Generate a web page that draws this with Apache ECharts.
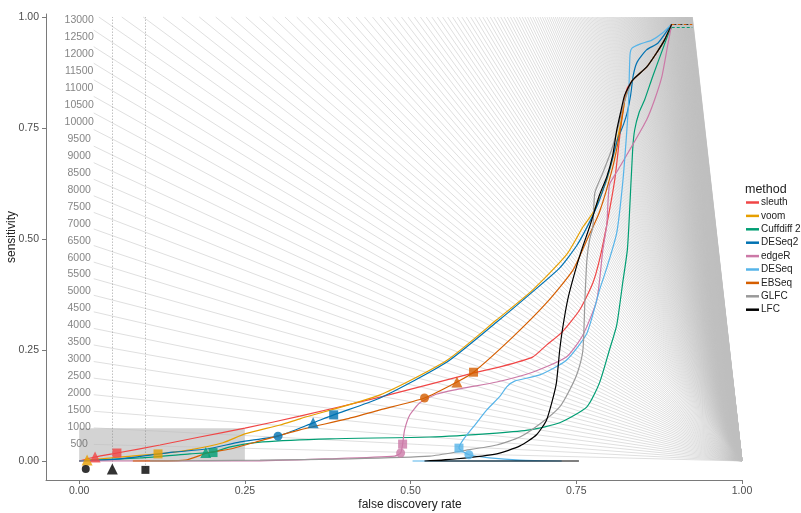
<!DOCTYPE html>
<html><head><meta charset="utf-8">
<script src="https://cdn.jsdelivr.net/npm/echarts@6/dist/echarts.min.js"></script>
<style>html,body{margin:0;padding:0;background:#fff}#c{width:801px;height:513px}</style>
</head><body><div id="c"></div>
<script>
const FONT = "'Liberation Sans', Arial, sans-serif";
const methods = ['sleuth','voom','Cuffdiff 2','DESeq2','edgeR','DESeq','EBSeq','GLFC','LFC'];
const colors  = ['#f04646','#E69F00','#009E73','#0072B2','#CC79A7','#56B4E9','#D55E00','#999999','#000000'];

// curves [FDR, sensitivity]
const sleuthCurve = [[0,0],[0.024,0.009],[0.057,0.018],[0.122,0.036],[0.182,0.054],[0.250,0.074],[0.333,0.101],[0.454,0.144],[0.594,0.198],[0.635,0.212],[0.684,0.234],[0.705,0.261],[0.729,0.291],[0.755,0.340],[0.775,0.401],[0.785,0.453],[0.796,0.532],[0.808,0.633],[0.815,0.723],[0.821,0.802],[0.827,0.840],[0.835,0.858],[0.856,0.887],[0.871,0.919],[0.883,0.948],[0.894,0.984]];
const voomCurve = [[0,0],[0.012,0.002],[0.062,0.009],[0.119,0.016],[0.167,0.025],[0.217,0.041],[0.250,0.061],[0.303,0.081],[0.333,0.095],[0.454,0.149],[0.555,0.227],[0.630,0.318],[0.684,0.385],[0.735,0.464],[0.760,0.527],[0.775,0.559],[0.796,0.633],[0.808,0.700],[0.819,0.775],[0.824,0.818],[0.835,0.858],[0.856,0.887],[0.871,0.919],[0.883,0.948],[0.894,0.984]];
const cuffdiffCurve = [[0,0],[0.092,0.007],[0.167,0.016],[0.202,0.020],[0.228,0.032],[0.277,0.043],[0.378,0.050],[0.529,0.054],[0.630,0.063],[0.680,0.070],[0.725,0.086],[0.766,0.122],[0.785,0.176],[0.800,0.250],[0.811,0.306],[0.820,0.401],[0.827,0.475],[0.830,0.550],[0.835,0.700],[0.838,0.745],[0.845,0.786],[0.853,0.813],[0.865,0.865],[0.880,0.926],[0.889,0.962],[0.894,0.977]];
const deseq2Curve = [[0,0],[0.062,0.005],[0.142,0.020],[0.193,0.027],[0.243,0.043],[0.300,0.056],[0.353,0.086],[0.384,0.104],[0.454,0.142],[0.555,0.223],[0.630,0.313],[0.684,0.381],[0.725,0.435],[0.751,0.486],[0.770,0.538],[0.785,0.588],[0.800,0.655],[0.812,0.723],[0.821,0.757],[0.827,0.786],[0.832,0.824],[0.836,0.869],[0.842,0.899],[0.856,0.926],[0.873,0.941],[0.888,0.971],[0.894,0.984]];
const edgeRCurve = [[0,0],[0.258,0],[0.378,0.005],[0.476,0.011],[0.485,0.018],[0.488,0.038],[0.491,0.070],[0.499,0.104],[0.514,0.131],[0.540,0.151],[0.579,0.164],[0.630,0.178],[0.684,0.200],[0.735,0.234],[0.760,0.284],[0.781,0.363],[0.790,0.475],[0.796,0.532],[0.800,0.622],[0.811,0.651],[0.835,0.712],[0.856,0.768],[0.868,0.813],[0.879,0.865],[0.888,0.937],[0.894,0.984]];
const deseqCurve = [[0.503,0],[0.728,0],[0.665,0.002],[0.619,0.007],[0.588,0.014],[0.573,0.029],[0.579,0.047],[0.597,0.081],[0.615,0.115],[0.635,0.146],[0.645,0.167],[0.657,0.180],[0.695,0.194],[0.735,0.227],[0.766,0.288],[0.785,0.385],[0.796,0.435],[0.811,0.514],[0.820,0.626],[0.826,0.739],[0.829,0.813],[0.831,0.914],[0.834,0.930],[0.846,0.939],[0.864,0.948],[0.880,0.964],[0.894,0.984]];
const ebseqCurve = [[0.081,0],[0.160,0.002],[0.193,0.018],[0.228,0.027],[0.277,0.047],[0.333,0.070],[0.404,0.095],[0.454,0.115],[0.521,0.142],[0.570,0.178],[0.595,0.200],[0.654,0.279],[0.705,0.356],[0.745,0.430],[0.766,0.498],[0.785,0.561],[0.805,0.662],[0.815,0.734],[0.821,0.791],[0.824,0.820],[0.835,0.858],[0.856,0.887],[0.871,0.919],[0.883,0.948],[0.894,0.984]];
const glfcCurve = [[0.107,0],[0.273,0.002],[0.408,0.005],[0.529,0.011],[0.579,0.023],[0.630,0.036],[0.665,0.054],[0.699,0.088],[0.725,0.122],[0.740,0.160],[0.752,0.200],[0.760,0.250],[0.763,0.363],[0.766,0.453],[0.770,0.498],[0.775,0.527],[0.778,0.604],[0.790,0.649],[0.803,0.700],[0.814,0.757],[0.821,0.802],[0.835,0.858],[0.856,0.887],[0.871,0.919],[0.883,0.948],[0.894,0.984]];
const lfcCurve = [[0.754,0],[0.521,0],[0.570,0.005],[0.630,0.016],[0.665,0.034],[0.690,0.059],[0.705,0.092],[0.714,0.137],[0.720,0.176],[0.725,0.250],[0.729,0.295],[0.737,0.363],[0.748,0.426],[0.758,0.475],[0.770,0.527],[0.785,0.599],[0.796,0.640],[0.805,0.689],[0.811,0.745],[0.817,0.786],[0.823,0.824],[0.835,0.858],[0.856,0.887],[0.871,0.919],[0.883,0.948],[0.894,0.984]];
const curves = [sleuthCurve, voomCurve, cuffdiffCurve, deseq2Curve, edgeRCurve, deseqCurve, ebseqCurve, glfcCurve, lfcCurve];

// threshold markers [FDR, sensitivity, shape]
const sleuthMarks   = [[0.024,0.009,'triangle'],[0.057,0.018,'rect']];
const voomMarks     = [[0.012,0.002,'triangle'],[0.119,0.016,'rect']];
const cuffdiffMarks = [[0.191,0.019,'triangle'],[0.202,0.019,'rect']];
const deseq2Marks   = [[0.300,0.056,'circle'],[0.353,0.086,'triangle'],[0.384,0.104,'rect']];
const edgeRMarks    = [[0.488,0.038,'rect'],[0.485,0.018,'circle']];
const deseqMarks    = [[0.573,0.029,'rect'],[0.588,0.014,'circle']];
const ebseqMarks    = [[0.521,0.142,'circle'],[0.570,0.178,'triangle'],[0.595,0.200,'rect']];
const markSets = [sleuthMarks, voomMarks, cuffdiffMarks, deseq2Marks, edgeRMarks, deseqMarks, ebseqMarks, [], []];
const thresholdKey = [[0.01,-0.018,'circle'],[0.05,-0.018,'triangle'],[0.10,-0.020,'rect']];
const thresholdLines = [0.05, 0.10];

// isoline labels (number of genes called)
const isoLabels = [500,1000,1500,2000,2500,3000,3500,4000,4500,5000,5500,6000,6500,7000,7500,8000,8500,9000,9500,10000,10500,11000,11500,12000,12500,13000];
const totalTrue = 13100;
const isoStep = 500, isoMax = 175000;
const xTicks = [0,0.25,0.5,0.75,1];
const yTicks = [0,0.25,0.5,0.75,1];

// build isolines: sensitivity = n(1-FDR)/P
const isoData = [];
for (let n = isoLabels[0]; n <= isoMax; n += isoStep) {
  let x0, y0;
  if (n <= totalTrue) { x0 = 0.022; y0 = n/totalTrue*(1-x0); }
  else { x0 = 1 - totalTrue/n; y0 = 1; }
  isoData.push({coords: [[x0,y0],[1,0]]});
}

const chart = echarts.init(document.getElementById('c'), null, {renderer:'canvas'});
const series = [];
series.push({type:'lines', coordinateSystem:'cartesian2d', polyline:false, silent:true, z:1,
  lineStyle:{color:'#bebebe', width:0.5, opacity:1}, data: isoData, animation:false});
series.push({type:'scatter', name:'isolabels', z:3, symbolSize:2, itemStyle:{color:'rgba(0,0,0,0)'}, silent:true,
  data: isoLabels.map(n => [0, n/totalTrue, n]),
  label:{show:true, position:'inside', formatter:p=>String(p.data[2]), color:'#666', fontSize:10.5, fontFamily:FONT}});
series.push({type:'line', name:'zoomrect', z:4, data:[], silent:true,
  markArea:{silent:true, itemStyle:{color:'rgba(150,150,150,0.42)'}, data:[[{coord:[0,0]},{coord:[0.25,0.074]}]]}});
series.push({type:'lines', coordinateSystem:'cartesian2d', silent:true, z:4,
  lineStyle:{color:'#8a8a8a', width:0.8, type:[1,2], opacity:1},
  data: thresholdLines.map(x => ({coords:[[x,-0.015],[x,1.0]]}))});
methods.forEach((m,i) => {
  series.push({type:'line', name:m, z:10+i, data:curves[i], symbol:'none', smooth:0.2,
    lineStyle:{color:colors[i], width:1.2}, itemStyle:{color:colors[i]}, animation:false});
});
series.push({type:'lines', coordinateSystem:'cartesian2d', silent:true, z:25,
  data:[
    {coords:[[0.894,0.977],[0.925,0.977]], lineStyle:{color:'#009E73', type:[3,2]}},
    {coords:[[0.894,0.984],[0.925,0.984]], lineStyle:{color:'#D55E00', type:[3,3]}},
    {coords:[[0.898,0.984],[0.925,0.984]], lineStyle:{color:'#333', type:[2,4]}}
  ], lineStyle:{width:1.1, opacity:1}});
const markData = [];
markSets.forEach((set,i) => set.forEach(p => markData.push({value:[p[0],p[1]], symbol:p[2],
  symbolSize: p[2]==='triangle'?11:9, itemStyle:{color:colors[i]}})));
thresholdKey.forEach(p => markData.push({value:[p[0],p[1]], symbol:p[2],
  symbolSize: p[2]==='triangle'?11:8, itemStyle:{color:'#000'}}));
series.push({type:'scatter', name:'marks', z:30, data:markData, silent:true, animation:false});

chart.setOption({
  animation:false,
  backgroundColor:'#fff',
  grid:{left:46, top:14, width:696, height:466, containLabel:false},
  xAxis:{type:'value', min:-0.05, max:1.0,
    axisLine:{show:true, onZero:false, lineStyle:{color:'#7a7a7a', width:1}},
    axisTick:{show:true, length:4, customValues:xTicks, lineStyle:{color:'#7a7a7a'}},
    axisLabel:{customValues:xTicks, formatter:v=>v.toFixed(2), color:'#4d4d4d', fontSize:10.5, fontFamily:FONT, margin:6},
    splitLine:{show:false}},
  yAxis:{type:'value', min:-0.0428, max:1.0068,
    axisLine:{show:true, onZero:false, lineStyle:{color:'#7a7a7a', width:1}},
    axisTick:{show:true, length:4, customValues:yTicks, lineStyle:{color:'#7a7a7a'}},
    axisLabel:{customValues:yTicks, formatter:v=>v.toFixed(2), color:'#4d4d4d', fontSize:10.5, fontFamily:FONT, margin:7},
    splitLine:{show:false}},
  legend:{show:true, orient:'vertical', left:746, top:196, width:60, padding:0, itemWidth:13, itemHeight:2.5, itemGap:0.4,
    icon:'rect', data:methods, selectedMode:false,
    textStyle:{fontSize:10, fontFamily:FONT, color:'#222', lineHeight:13, padding:[0,0,0,-3], overflow:'none'}},
  graphic:[
    {type:'text', left:745, top:183, style:{text:'method', fontSize:12.5, fontFamily:FONT, fill:'#222'}},
    {type:'text', x:410, y:505, style:{text:'false discovery rate', fontSize:12, fontFamily:FONT, fill:'#222', textAlign:'center', textVerticalAlign:'middle'}},
    {type:'text', x:12, y:237, rotation:Math.PI/2, style:{text:'sensitivity', fontSize:12, fontFamily:FONT, fill:'#222', textAlign:'center', textVerticalAlign:'middle'}}
  ],
  series: series
});
</script></body></html>
